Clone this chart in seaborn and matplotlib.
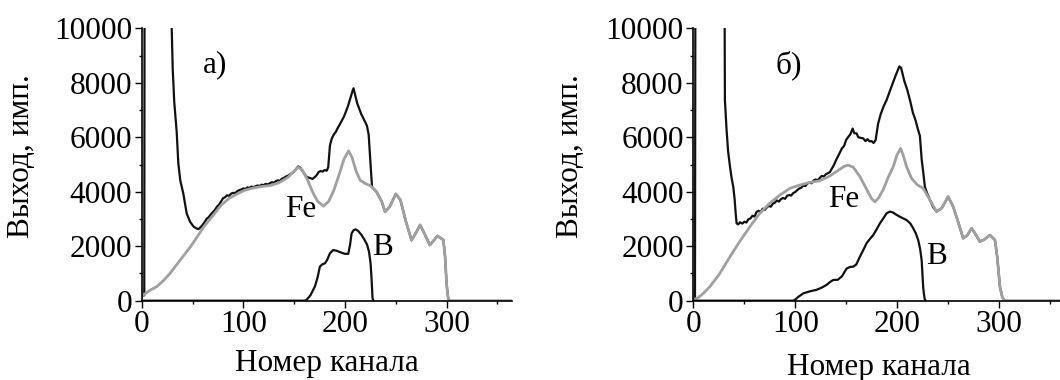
import matplotlib
matplotlib.use("Agg")
import matplotlib.pyplot as plt
from matplotlib.ticker import MultipleLocator
import seaborn as sns

# ---------------- Panel a) data ----------------
fe_a_x = [0, 2, 8, 15, 22, 28, 36, 48, 55, 61, 70, 78, 86, 94, 101, 110, 118, 127,
          135, 144, 150, 154, 158, 163, 168, 173, 179, 184, 189, 194, 199, 203.5,
          207, 211, 215, 220, 225, 231, 236, 239.5, 244, 250, 254.5, 260, 265.5,
          270, 274, 279, 283.5, 287, 291, 294, 296.8, 298.5, 300, 301.5, 303, 364]
fe_a_y = [150, 220, 380, 520, 760, 1010, 1400, 1980, 2370, 2710, 3120, 3500, 3760,
          3920, 4050, 4140, 4190, 4230, 4330, 4530, 4760, 4900, 4800, 4450, 4000,
          3650, 3470, 3650, 4050, 4600, 5200, 5500, 5250, 4750, 4420, 4300, 4220,
          4000, 3650, 3260, 3450, 3920, 3700, 2900, 2220, 2500, 2780, 2400, 2040,
          2200, 2380, 2300, 2230, 1600, 600, 100, 0, 0]

tot_a_x = [0, 2.5, 3.3, 29.0, 29.5, 30.5, 32, 34.4, 36, 38, 40.9, 44.2, 47.5, 51, 54,
           56, 58, 60, 62, 64, 66, 68, 70, 72, 74, 76, 78, 80, 82, 84, 86, 88, 90,
           92, 94, 96, 98, 100, 102, 104, 106, 108, 110, 112, 114, 116, 118, 120,
           122, 124, 126, 128, 130, 132, 134, 136, 138, 140, 142, 144, 146, 148, 150,
           152, 154, 156, 158, 160, 162, 164, 166, 168, 170, 172, 174, 176, 178, 180,
           182, 183.5, 185.2, 187, 189, 191, 193, 195, 197, 199, 201, 203, 205, 207,
           208.4, 210, 212, 214, 216, 218, 220, 221.6, 223.3, 225, 226.6,
           231, 236, 239.5, 244, 250, 254.5, 260, 265.5, 270, 274, 279, 283.5, 287,
           291, 294, 296.8, 298.5, 300, 301.5, 303]
tot_a_y = [150, 200, 30000, 30000, 10000, 8500, 7300, 6200, 5050, 4400, 3940, 3210,
           2900, 2720, 2650,
           2630, 2700, 2790, 2890, 3010, 3070, 3170, 3250, 3330, 3450, 3520, 3640,
           3760, 3800, 3870, 3850, 3930, 3960, 3950, 4020, 4060, 4080, 4120, 4100,
           4160, 4140, 4190, 4170, 4200, 4230, 4210, 4260, 4240, 4290, 4270, 4310,
           4350, 4330, 4390, 4420, 4400, 4480, 4510, 4560, 4590, 4640, 4690, 4750,
           4840, 4930, 4880, 4770, 4660, 4560, 4520, 4500, 4470, 4530, 4600, 4720,
           4760, 4740, 4800, 4770, 4900, 5700, 5950, 6100, 6200, 6350, 6480, 6620,
           6760, 6950, 7150, 7400, 7650, 7800, 7550, 7250, 7050, 6850, 6700, 6550,
           6420, 6100, 5100, 4180,
           4000, 3650, 3260, 3450, 3920, 3700, 2900, 2220, 2500, 2780, 2400, 2040,
           2200, 2380, 2300, 2230, 1600, 600, 100, 0]

b_a_x = [0, 160, 162.2, 166, 170.4, 173, 175.3, 177.5, 180.2, 182.5, 185.2, 188.4,
         192, 196.7, 200, 203.2, 205, 206.5, 208.5, 210.4, 213, 216.3, 219, 221.8,
         223.6, 225.2, 226.3, 227.1, 228]
b_a_y = [0, 0, 30, 200, 520, 850, 1250, 1330, 1370, 1500, 1740, 1860, 1830, 1760,
         1720, 1720, 2050, 2470, 2590, 2620, 2560, 2410, 2250, 2050, 1800, 1370, 700,
         90, 0]

# ---------------- Panel б) data ----------------
fe_b_x = [0, 5, 10, 16, 25, 36, 45, 55.5, 65, 75, 85, 95, 105, 114, 124, 134, 142,
          148, 152, 157, 163.5, 170, 175, 178.3, 182, 186.4, 191, 196.3, 200, 203.5,
          206, 209.4, 214.3, 220, 225.7, 232.3, 238.9, 244, 250.3, 255.2, 260, 265,
          269, 273.3, 277, 281.4, 286, 291.3, 296.2, 298.5, 301.1, 303.5, 306, 364]
fe_b_y = [30, 120, 280, 510, 950, 1620, 2150, 2720, 3200, 3580, 3880, 4130, 4250,
          4340, 4400, 4580, 4780, 4930, 4980, 4900, 4560, 4100, 3750, 3630, 3780,
          4070, 4500, 4920, 5350, 5590, 5350, 4920, 4490, 4250, 4130, 3700, 3270,
          3400, 3820, 3450, 2900, 2290, 2400, 2660, 2450, 2170, 2250, 2410, 2230,
          1600, 520, 120, 0, 0]

tot_b_x = [0, 1.5, 2.5, 29.0, 30.9, 32.5, 34, 35.9, 37.5, 39.1, 40.5, 41.5, 42.4,
           44, 45.7, 48, 50, 52, 54, 56, 58, 60, 62, 64, 66, 68, 70, 72, 74, 76, 78,
           80, 82, 84, 86, 88, 90, 92, 94, 96, 98, 100, 102, 104, 106, 108, 110, 112,
           114, 116, 118, 120, 122, 124, 126, 128, 130, 132, 134, 136, 138, 140, 142,
           144, 146, 148, 150, 152, 154, 156.4, 158, 160.3, 162, 164, 166.8, 169, 171,
           173, 175, 177, 179, 181.5, 184, 187, 189.8, 193, 196, 199, 202.3, 204,
           207.3, 210, 212.7, 215.6, 218, 220.5, 222.5, 224.2, 225.8, 227.4, 229.5,
           232.3, 235.4, 238.9, 244, 250.3, 255.2, 260, 265, 269, 273.3, 277, 281.4,
           286, 291.3, 296.2, 298.5, 301.1, 303.5, 306]
tot_b_y = [30, 60, 30000, 30000, 7370, 6300, 5500, 4920, 4500, 4190, 3700, 3200,
           2840, 2800, 2880, 2830, 2900, 2870, 2990, 3020, 3120, 3090, 3260, 3300,
           3250, 3380, 3330, 3420, 3480, 3450, 3560, 3600, 3680, 3640, 3730, 3770,
           3740, 3850, 3880, 3860, 3950, 3990, 4060, 4120, 4150, 4230, 4210, 4300,
           4340, 4310, 4410, 4450, 4420, 4500, 4580, 4560, 4640, 4680, 4720, 4850,
           4980, 5150, 5300, 5450, 5600, 5680, 5900, 6010, 6100, 6320, 6150, 6140,
           6000, 5980, 5960, 5860, 5930, 5850, 5860, 5790, 5900, 6510, 6850, 7150,
           7370, 7700, 8000, 8300, 8600, 8550, 8050, 7750, 7370, 6900, 6650, 6300,
           6050, 5200, 4700, 4180, 3950, 3700, 3440, 3270, 3400, 3820, 3450, 2900,
           2290, 2400, 2660, 2450, 2170, 2250, 2410, 2230, 1600, 520, 120, 0]

b_b_x = [0, 98, 99.7, 103, 107.9, 114, 121, 126, 130.8, 134, 137.3, 141.9, 146,
         150.5, 154, 157, 160, 163.6, 167, 170.1, 173, 176.6, 180, 183.2, 186.5,
         189.8, 193, 196, 199.6, 204, 209.4, 213, 215.9, 218.5, 220.8, 222.7, 224.2,
         225.7, 226.6, 227.4, 228.5]
b_b_y = [0, 0, 30, 140, 270, 340, 400, 480, 580, 680, 760, 770, 900, 1180, 1240,
         1250, 1330, 1620, 1870, 2110, 2250, 2410, 2620, 2840, 3020, 3210, 3270,
         3240, 3150, 3060, 2960, 2840, 2660, 2470, 2230, 1900, 1490, 510, 200, 30, 0]

x_major = [0, 100, 200, 300]
y_major = [0, 2000, 4000, 6000, 8000, 10000]
panel_tags = ["а)", "б)"]
fe_label, b_label = "Fe", "B"
xlabel_text = "Номер канала"
ylabel_text = "Выход, имп."

# ---------------- Styling ----------------
sns.set_theme(style="ticks")
plt.rcParams["font.family"] = ["Liberation Serif", "DejaVu Serif"]

FS = 22.5
BLACK = "#111111"
GREY = "#a0a0a0"

fig = plt.figure(figsize=(10.6, 3.8), dpi=100)
ax_a = fig.add_axes([0.1337, 0.2087, 0.349, 0.7168])
ax_b = fig.add_axes([0.6542, 0.2087, 0.3495, 0.7168])

panels = [
    (ax_a, fe_a_x, fe_a_y, tot_a_x, tot_a_y, b_a_x, b_a_y, (72, 8650), (156, 3330), (237, 1950), 7, -0.287),
    (ax_b, fe_b_x, fe_b_y, tot_b_x, tot_b_y, b_b_x, b_b_y, (94, 8650), (148, 3730), (239, 1640), 9.5, -0.292),
]

for i, (ax, fx, fy, tx, ty, bx, by, tagpos, fepos, bpos, xpad, ylx) in enumerate(panels):
    sns.lineplot(x=tx, y=ty, ax=ax, color=BLACK, linewidth=1.6,
                 estimator=None, sort=False)
    sns.lineplot(x=fx, y=fy, ax=ax, color=GREY, linewidth=2.0,
                 estimator=None, sort=False)
    sns.lineplot(x=bx, y=by, ax=ax, color=BLACK, linewidth=1.6,
                 estimator=None, sort=False)

    ax.set_xlim(0, 364)
    ax.set_ylim(0, 10000)
    ax.set_xticks(x_major)
    ax.set_yticks(y_major)
    ax.xaxis.set_minor_locator(MultipleLocator(50))
    ax.yaxis.set_minor_locator(MultipleLocator(1000))
    ax.tick_params(axis="both", which="major", direction="out", length=5,
                   width=1, color="black", labelsize=FS, pad=2, labelcolor="black")
    ax.tick_params(axis="both", which="minor", direction="out", length=2.5,
                   width=1, color="black")
    sns.despine(ax=ax)
    for s in ("left", "bottom"):
        ax.spines[s].set_color("black")
        ax.spines[s].set_linewidth(1.2)
    ax.set_xlabel(xlabel_text, fontsize=FS, labelpad=xpad, color="black")
    ax.set_ylabel(ylabel_text, fontsize=FS, color="black")
    ax.yaxis.set_label_coords(ylx, 0.53)
    ax.grid(False)
    ax.set_facecolor("white")

    ax.text(tagpos[0], tagpos[1], panel_tags[i], fontsize=FS, ha="center",
            va="center", color="black")
    ax.text(fepos[0], fepos[1], fe_label, fontsize=FS, ha="center",
            va="center", color="black")
    ax.text(bpos[0], bpos[1], b_label, fontsize=FS, ha="center",
            va="center", color="black")

fig.patch.set_facecolor("white")
fig.savefig("out.png", dpi=100, facecolor="white")
